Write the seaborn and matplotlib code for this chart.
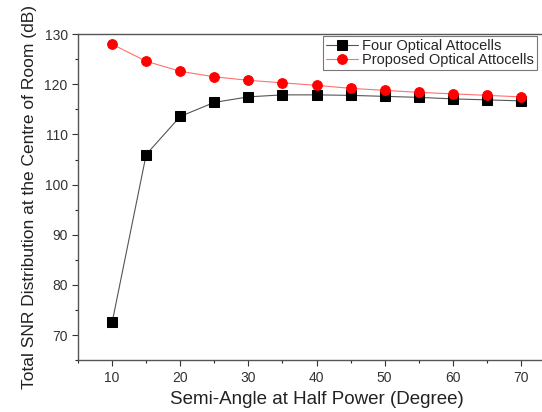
import numpy as np
import pandas as pd
import matplotlib
matplotlib.use("Agg")
import matplotlib.pyplot as plt
import seaborn as sns
from matplotlib.ticker import MultipleLocator

# values
semi_angle = [10, 15, 20, 25, 30, 35, 40, 45, 50, 55, 60, 65, 70]
four_cells = [72.5, 106.0, 113.6, 116.4, 117.5, 117.9, 117.9, 117.8, 117.6, 117.4, 117.1, 116.9, 116.7]
proposed_cells = [128.0, 124.6, 122.6, 121.5, 120.8, 120.3, 119.8, 119.2, 118.8, 118.4, 118.1, 117.8, 117.5]

sns.set_style("ticks")
plt.rcParams["font.family"] = ["Liberation Sans", "DejaVu Sans"]

df = pd.DataFrame({"angle": semi_angle, "four": four_cells, "proposed": proposed_cells})

fig = plt.figure(figsize=(5.42, 4.12), dpi=100)
# axes runs past the right edge of the figure, as in the cropped original
ax = fig.add_axes([0.144, 0.126, 0.88, 0.791])

sns.lineplot(data=df, x="angle", y="four", ax=ax, color="#555555", lw=0.8,
             marker="s", markersize=6.5, markerfacecolor="black", markeredgecolor="black",
             label="Four Optical Attocells")
sns.lineplot(data=df, x="angle", y="proposed", ax=ax, color="#ff7070", lw=0.8,
             marker="o", markersize=7, markerfacecolor="red", markeredgecolor="red",
             label="Proposed Optical Attocells")

ax.set_xlim(5, 75)
ax.set_ylim(65, 130)
ax.xaxis.set_major_locator(MultipleLocator(10))
ax.xaxis.set_minor_locator(MultipleLocator(5))
ax.yaxis.set_major_locator(MultipleLocator(10))
ax.yaxis.set_minor_locator(MultipleLocator(5))
ax.tick_params(which="major", direction="out", length=4, width=0.8, labelsize=10, colors="#333333")
ax.tick_params(which="minor", direction="out", length=2.5, width=0.8)
for s in ax.spines.values():
    s.set_color("#555555")
    s.set_linewidth(1.0)
ax.spines["right"].set_visible(False)

ax.set_xlabel("Semi-Angle at Half Power (Degree)", fontsize=13.5, color="#222222", labelpad=5)
ax.set_ylabel("Total SNR Distribution at the Centre of Room (dB)", fontsize=12.5, color="#222222", labelpad=5)

leg = ax.legend(loc="upper left", bbox_to_anchor=(0.513, 0.995), fontsize=10.5,
                frameon=True, fancybox=False, borderpad=0.2, labelspacing=0.05,
                handlelength=2.2, handletextpad=0.3, borderaxespad=0)
leg.get_frame().set_edgecolor("#555555")
leg.get_frame().set_linewidth(0.8)

fig.savefig("out.png", dpi=100)
